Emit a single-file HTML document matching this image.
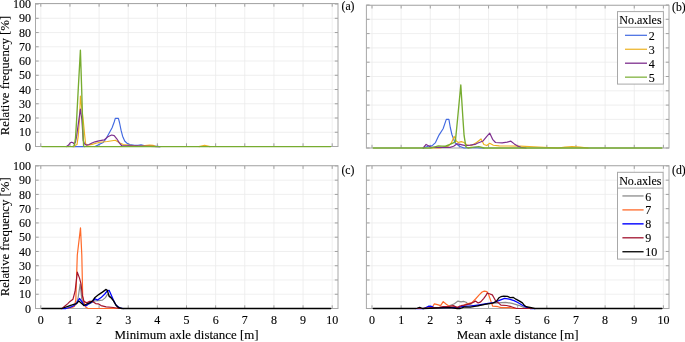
<!DOCTYPE html>
<html><head><meta charset="utf-8"><style>
html,body{margin:0;padding:0;background:#fff;}
body{width:685px;height:342px;overflow:hidden;}
svg{display:block;will-change:transform;}
text{font-family:"Liberation Serif", serif;fill:#000;stroke:#000;stroke-width:0.12px;}
.t{font-size:12px;}
.l{font-size:12px;}
.x{font-size:12.95px;}
.p{font-size:11.7px;stroke-width:0.12px;}
</style></head><body>
<svg width="685" height="342" viewBox="0 0 685 342">
<rect width="685" height="342" fill="#fff"/>
<line x1="40.8" y1="3.5" x2="40.8" y2="146.5" stroke="#ebebeb" stroke-width="0.8"/>
<line x1="69.94" y1="3.5" x2="69.94" y2="146.5" stroke="#ebebeb" stroke-width="0.8"/>
<line x1="99.08" y1="3.5" x2="99.08" y2="146.5" stroke="#ebebeb" stroke-width="0.8"/>
<line x1="128.22" y1="3.5" x2="128.22" y2="146.5" stroke="#ebebeb" stroke-width="0.8"/>
<line x1="157.36" y1="3.5" x2="157.36" y2="146.5" stroke="#ebebeb" stroke-width="0.8"/>
<line x1="186.5" y1="3.5" x2="186.5" y2="146.5" stroke="#ebebeb" stroke-width="0.8"/>
<line x1="215.64" y1="3.5" x2="215.64" y2="146.5" stroke="#ebebeb" stroke-width="0.8"/>
<line x1="244.78" y1="3.5" x2="244.78" y2="146.5" stroke="#ebebeb" stroke-width="0.8"/>
<line x1="273.92" y1="3.5" x2="273.92" y2="146.5" stroke="#ebebeb" stroke-width="0.8"/>
<line x1="303.06" y1="3.5" x2="303.06" y2="146.5" stroke="#ebebeb" stroke-width="0.8"/>
<line x1="332.2" y1="3.5" x2="332.2" y2="146.5" stroke="#ebebeb" stroke-width="0.8"/>
<line x1="35.5" y1="146.5" x2="338" y2="146.5" stroke="#ebebeb" stroke-width="0.8"/>
<line x1="35.5" y1="132.26" x2="338" y2="132.26" stroke="#ebebeb" stroke-width="0.8"/>
<line x1="35.5" y1="118.01" x2="338" y2="118.01" stroke="#ebebeb" stroke-width="0.8"/>
<line x1="35.5" y1="103.77" x2="338" y2="103.77" stroke="#ebebeb" stroke-width="0.8"/>
<line x1="35.5" y1="89.52" x2="338" y2="89.52" stroke="#ebebeb" stroke-width="0.8"/>
<line x1="35.5" y1="75.28" x2="338" y2="75.28" stroke="#ebebeb" stroke-width="0.8"/>
<line x1="35.5" y1="61.04" x2="338" y2="61.04" stroke="#ebebeb" stroke-width="0.8"/>
<line x1="35.5" y1="46.79" x2="338" y2="46.79" stroke="#ebebeb" stroke-width="0.8"/>
<line x1="35.5" y1="32.55" x2="338" y2="32.55" stroke="#ebebeb" stroke-width="0.8"/>
<line x1="35.5" y1="18.3" x2="338" y2="18.3" stroke="#ebebeb" stroke-width="0.8"/>
<line x1="35.5" y1="4.06" x2="338" y2="4.06" stroke="#ebebeb" stroke-width="0.8"/>
<line x1="40.8" y1="146.5" x2="40.8" y2="143.3" stroke="#8c8c8c" stroke-width="0.8"/>
<line x1="40.8" y1="3.5" x2="40.8" y2="6.7" stroke="#8c8c8c" stroke-width="0.8"/>
<line x1="69.94" y1="146.5" x2="69.94" y2="143.3" stroke="#8c8c8c" stroke-width="0.8"/>
<line x1="69.94" y1="3.5" x2="69.94" y2="6.7" stroke="#8c8c8c" stroke-width="0.8"/>
<line x1="99.08" y1="146.5" x2="99.08" y2="143.3" stroke="#8c8c8c" stroke-width="0.8"/>
<line x1="99.08" y1="3.5" x2="99.08" y2="6.7" stroke="#8c8c8c" stroke-width="0.8"/>
<line x1="128.22" y1="146.5" x2="128.22" y2="143.3" stroke="#8c8c8c" stroke-width="0.8"/>
<line x1="128.22" y1="3.5" x2="128.22" y2="6.7" stroke="#8c8c8c" stroke-width="0.8"/>
<line x1="157.36" y1="146.5" x2="157.36" y2="143.3" stroke="#8c8c8c" stroke-width="0.8"/>
<line x1="157.36" y1="3.5" x2="157.36" y2="6.7" stroke="#8c8c8c" stroke-width="0.8"/>
<line x1="186.5" y1="146.5" x2="186.5" y2="143.3" stroke="#8c8c8c" stroke-width="0.8"/>
<line x1="186.5" y1="3.5" x2="186.5" y2="6.7" stroke="#8c8c8c" stroke-width="0.8"/>
<line x1="215.64" y1="146.5" x2="215.64" y2="143.3" stroke="#8c8c8c" stroke-width="0.8"/>
<line x1="215.64" y1="3.5" x2="215.64" y2="6.7" stroke="#8c8c8c" stroke-width="0.8"/>
<line x1="244.78" y1="146.5" x2="244.78" y2="143.3" stroke="#8c8c8c" stroke-width="0.8"/>
<line x1="244.78" y1="3.5" x2="244.78" y2="6.7" stroke="#8c8c8c" stroke-width="0.8"/>
<line x1="273.92" y1="146.5" x2="273.92" y2="143.3" stroke="#8c8c8c" stroke-width="0.8"/>
<line x1="273.92" y1="3.5" x2="273.92" y2="6.7" stroke="#8c8c8c" stroke-width="0.8"/>
<line x1="303.06" y1="146.5" x2="303.06" y2="143.3" stroke="#8c8c8c" stroke-width="0.8"/>
<line x1="303.06" y1="3.5" x2="303.06" y2="6.7" stroke="#8c8c8c" stroke-width="0.8"/>
<line x1="332.2" y1="146.5" x2="332.2" y2="143.3" stroke="#8c8c8c" stroke-width="0.8"/>
<line x1="332.2" y1="3.5" x2="332.2" y2="6.7" stroke="#8c8c8c" stroke-width="0.8"/>
<line x1="35.5" y1="146.5" x2="38.7" y2="146.5" stroke="#8c8c8c" stroke-width="0.8"/>
<line x1="338" y1="146.5" x2="334.8" y2="146.5" stroke="#8c8c8c" stroke-width="0.8"/>
<line x1="35.5" y1="132.26" x2="38.7" y2="132.26" stroke="#8c8c8c" stroke-width="0.8"/>
<line x1="338" y1="132.26" x2="334.8" y2="132.26" stroke="#8c8c8c" stroke-width="0.8"/>
<line x1="35.5" y1="118.01" x2="38.7" y2="118.01" stroke="#8c8c8c" stroke-width="0.8"/>
<line x1="338" y1="118.01" x2="334.8" y2="118.01" stroke="#8c8c8c" stroke-width="0.8"/>
<line x1="35.5" y1="103.77" x2="38.7" y2="103.77" stroke="#8c8c8c" stroke-width="0.8"/>
<line x1="338" y1="103.77" x2="334.8" y2="103.77" stroke="#8c8c8c" stroke-width="0.8"/>
<line x1="35.5" y1="89.52" x2="38.7" y2="89.52" stroke="#8c8c8c" stroke-width="0.8"/>
<line x1="338" y1="89.52" x2="334.8" y2="89.52" stroke="#8c8c8c" stroke-width="0.8"/>
<line x1="35.5" y1="75.28" x2="38.7" y2="75.28" stroke="#8c8c8c" stroke-width="0.8"/>
<line x1="338" y1="75.28" x2="334.8" y2="75.28" stroke="#8c8c8c" stroke-width="0.8"/>
<line x1="35.5" y1="61.04" x2="38.7" y2="61.04" stroke="#8c8c8c" stroke-width="0.8"/>
<line x1="338" y1="61.04" x2="334.8" y2="61.04" stroke="#8c8c8c" stroke-width="0.8"/>
<line x1="35.5" y1="46.79" x2="38.7" y2="46.79" stroke="#8c8c8c" stroke-width="0.8"/>
<line x1="338" y1="46.79" x2="334.8" y2="46.79" stroke="#8c8c8c" stroke-width="0.8"/>
<line x1="35.5" y1="32.55" x2="38.7" y2="32.55" stroke="#8c8c8c" stroke-width="0.8"/>
<line x1="338" y1="32.55" x2="334.8" y2="32.55" stroke="#8c8c8c" stroke-width="0.8"/>
<line x1="35.5" y1="18.3" x2="38.7" y2="18.3" stroke="#8c8c8c" stroke-width="0.8"/>
<line x1="338" y1="18.3" x2="334.8" y2="18.3" stroke="#8c8c8c" stroke-width="0.8"/>
<line x1="35.5" y1="4.06" x2="38.7" y2="4.06" stroke="#8c8c8c" stroke-width="0.8"/>
<line x1="338" y1="4.06" x2="334.8" y2="4.06" stroke="#8c8c8c" stroke-width="0.8"/>
<text x="31" y="150.6" text-anchor="end" class="t">0</text>
<text x="31" y="136.36" text-anchor="end" class="t">10</text>
<text x="31" y="122.11" text-anchor="end" class="t">20</text>
<text x="31" y="107.87" text-anchor="end" class="t">30</text>
<text x="31" y="93.62" text-anchor="end" class="t">40</text>
<text x="31" y="79.38" text-anchor="end" class="t">50</text>
<text x="31" y="65.14" text-anchor="end" class="t">60</text>
<text x="31" y="50.89" text-anchor="end" class="t">70</text>
<text x="31" y="36.65" text-anchor="end" class="t">80</text>
<text x="31" y="22.4" text-anchor="end" class="t">90</text>
<text x="31" y="8.16" text-anchor="end" class="t">100</text>
<line x1="372" y1="5.3" x2="372" y2="148" stroke="#ebebeb" stroke-width="0.8"/>
<line x1="401.14" y1="5.3" x2="401.14" y2="148" stroke="#ebebeb" stroke-width="0.8"/>
<line x1="430.28" y1="5.3" x2="430.28" y2="148" stroke="#ebebeb" stroke-width="0.8"/>
<line x1="459.42" y1="5.3" x2="459.42" y2="148" stroke="#ebebeb" stroke-width="0.8"/>
<line x1="488.56" y1="5.3" x2="488.56" y2="148" stroke="#ebebeb" stroke-width="0.8"/>
<line x1="517.7" y1="5.3" x2="517.7" y2="148" stroke="#ebebeb" stroke-width="0.8"/>
<line x1="546.84" y1="5.3" x2="546.84" y2="148" stroke="#ebebeb" stroke-width="0.8"/>
<line x1="575.98" y1="5.3" x2="575.98" y2="148" stroke="#ebebeb" stroke-width="0.8"/>
<line x1="605.12" y1="5.3" x2="605.12" y2="148" stroke="#ebebeb" stroke-width="0.8"/>
<line x1="634.26" y1="5.3" x2="634.26" y2="148" stroke="#ebebeb" stroke-width="0.8"/>
<line x1="663.4" y1="5.3" x2="663.4" y2="148" stroke="#ebebeb" stroke-width="0.8"/>
<line x1="366.4" y1="148" x2="669" y2="148" stroke="#ebebeb" stroke-width="0.8"/>
<line x1="366.4" y1="133.7" x2="669" y2="133.7" stroke="#ebebeb" stroke-width="0.8"/>
<line x1="366.4" y1="119.4" x2="669" y2="119.4" stroke="#ebebeb" stroke-width="0.8"/>
<line x1="366.4" y1="105.1" x2="669" y2="105.1" stroke="#ebebeb" stroke-width="0.8"/>
<line x1="366.4" y1="90.8" x2="669" y2="90.8" stroke="#ebebeb" stroke-width="0.8"/>
<line x1="366.4" y1="76.5" x2="669" y2="76.5" stroke="#ebebeb" stroke-width="0.8"/>
<line x1="366.4" y1="62.2" x2="669" y2="62.2" stroke="#ebebeb" stroke-width="0.8"/>
<line x1="366.4" y1="47.9" x2="669" y2="47.9" stroke="#ebebeb" stroke-width="0.8"/>
<line x1="366.4" y1="33.6" x2="669" y2="33.6" stroke="#ebebeb" stroke-width="0.8"/>
<line x1="366.4" y1="19.3" x2="669" y2="19.3" stroke="#ebebeb" stroke-width="0.8"/>
<line x1="366.4" y1="5" x2="669" y2="5" stroke="#ebebeb" stroke-width="0.8"/>
<line x1="372" y1="148" x2="372" y2="144.8" stroke="#8c8c8c" stroke-width="0.8"/>
<line x1="372" y1="5.3" x2="372" y2="8.5" stroke="#8c8c8c" stroke-width="0.8"/>
<line x1="401.14" y1="148" x2="401.14" y2="144.8" stroke="#8c8c8c" stroke-width="0.8"/>
<line x1="401.14" y1="5.3" x2="401.14" y2="8.5" stroke="#8c8c8c" stroke-width="0.8"/>
<line x1="430.28" y1="148" x2="430.28" y2="144.8" stroke="#8c8c8c" stroke-width="0.8"/>
<line x1="430.28" y1="5.3" x2="430.28" y2="8.5" stroke="#8c8c8c" stroke-width="0.8"/>
<line x1="459.42" y1="148" x2="459.42" y2="144.8" stroke="#8c8c8c" stroke-width="0.8"/>
<line x1="459.42" y1="5.3" x2="459.42" y2="8.5" stroke="#8c8c8c" stroke-width="0.8"/>
<line x1="488.56" y1="148" x2="488.56" y2="144.8" stroke="#8c8c8c" stroke-width="0.8"/>
<line x1="488.56" y1="5.3" x2="488.56" y2="8.5" stroke="#8c8c8c" stroke-width="0.8"/>
<line x1="517.7" y1="148" x2="517.7" y2="144.8" stroke="#8c8c8c" stroke-width="0.8"/>
<line x1="517.7" y1="5.3" x2="517.7" y2="8.5" stroke="#8c8c8c" stroke-width="0.8"/>
<line x1="546.84" y1="148" x2="546.84" y2="144.8" stroke="#8c8c8c" stroke-width="0.8"/>
<line x1="546.84" y1="5.3" x2="546.84" y2="8.5" stroke="#8c8c8c" stroke-width="0.8"/>
<line x1="575.98" y1="148" x2="575.98" y2="144.8" stroke="#8c8c8c" stroke-width="0.8"/>
<line x1="575.98" y1="5.3" x2="575.98" y2="8.5" stroke="#8c8c8c" stroke-width="0.8"/>
<line x1="605.12" y1="148" x2="605.12" y2="144.8" stroke="#8c8c8c" stroke-width="0.8"/>
<line x1="605.12" y1="5.3" x2="605.12" y2="8.5" stroke="#8c8c8c" stroke-width="0.8"/>
<line x1="634.26" y1="148" x2="634.26" y2="144.8" stroke="#8c8c8c" stroke-width="0.8"/>
<line x1="634.26" y1="5.3" x2="634.26" y2="8.5" stroke="#8c8c8c" stroke-width="0.8"/>
<line x1="663.4" y1="148" x2="663.4" y2="144.8" stroke="#8c8c8c" stroke-width="0.8"/>
<line x1="663.4" y1="5.3" x2="663.4" y2="8.5" stroke="#8c8c8c" stroke-width="0.8"/>
<line x1="366.4" y1="148" x2="369.6" y2="148" stroke="#8c8c8c" stroke-width="0.8"/>
<line x1="669" y1="148" x2="665.8" y2="148" stroke="#8c8c8c" stroke-width="0.8"/>
<line x1="366.4" y1="133.7" x2="369.6" y2="133.7" stroke="#8c8c8c" stroke-width="0.8"/>
<line x1="669" y1="133.7" x2="665.8" y2="133.7" stroke="#8c8c8c" stroke-width="0.8"/>
<line x1="366.4" y1="119.4" x2="369.6" y2="119.4" stroke="#8c8c8c" stroke-width="0.8"/>
<line x1="669" y1="119.4" x2="665.8" y2="119.4" stroke="#8c8c8c" stroke-width="0.8"/>
<line x1="366.4" y1="105.1" x2="369.6" y2="105.1" stroke="#8c8c8c" stroke-width="0.8"/>
<line x1="669" y1="105.1" x2="665.8" y2="105.1" stroke="#8c8c8c" stroke-width="0.8"/>
<line x1="366.4" y1="90.8" x2="369.6" y2="90.8" stroke="#8c8c8c" stroke-width="0.8"/>
<line x1="669" y1="90.8" x2="665.8" y2="90.8" stroke="#8c8c8c" stroke-width="0.8"/>
<line x1="366.4" y1="76.5" x2="369.6" y2="76.5" stroke="#8c8c8c" stroke-width="0.8"/>
<line x1="669" y1="76.5" x2="665.8" y2="76.5" stroke="#8c8c8c" stroke-width="0.8"/>
<line x1="366.4" y1="62.2" x2="369.6" y2="62.2" stroke="#8c8c8c" stroke-width="0.8"/>
<line x1="669" y1="62.2" x2="665.8" y2="62.2" stroke="#8c8c8c" stroke-width="0.8"/>
<line x1="366.4" y1="47.9" x2="369.6" y2="47.9" stroke="#8c8c8c" stroke-width="0.8"/>
<line x1="669" y1="47.9" x2="665.8" y2="47.9" stroke="#8c8c8c" stroke-width="0.8"/>
<line x1="366.4" y1="33.6" x2="369.6" y2="33.6" stroke="#8c8c8c" stroke-width="0.8"/>
<line x1="669" y1="33.6" x2="665.8" y2="33.6" stroke="#8c8c8c" stroke-width="0.8"/>
<line x1="366.4" y1="19.3" x2="369.6" y2="19.3" stroke="#8c8c8c" stroke-width="0.8"/>
<line x1="669" y1="19.3" x2="665.8" y2="19.3" stroke="#8c8c8c" stroke-width="0.8"/>
<line x1="366.4" y1="5" x2="369.6" y2="5" stroke="#8c8c8c" stroke-width="0.8"/>
<line x1="669" y1="5" x2="665.8" y2="5" stroke="#8c8c8c" stroke-width="0.8"/>
<line x1="40.8" y1="165.7" x2="40.8" y2="308.5" stroke="#ebebeb" stroke-width="0.8"/>
<line x1="69.94" y1="165.7" x2="69.94" y2="308.5" stroke="#ebebeb" stroke-width="0.8"/>
<line x1="99.08" y1="165.7" x2="99.08" y2="308.5" stroke="#ebebeb" stroke-width="0.8"/>
<line x1="128.22" y1="165.7" x2="128.22" y2="308.5" stroke="#ebebeb" stroke-width="0.8"/>
<line x1="157.36" y1="165.7" x2="157.36" y2="308.5" stroke="#ebebeb" stroke-width="0.8"/>
<line x1="186.5" y1="165.7" x2="186.5" y2="308.5" stroke="#ebebeb" stroke-width="0.8"/>
<line x1="215.64" y1="165.7" x2="215.64" y2="308.5" stroke="#ebebeb" stroke-width="0.8"/>
<line x1="244.78" y1="165.7" x2="244.78" y2="308.5" stroke="#ebebeb" stroke-width="0.8"/>
<line x1="273.92" y1="165.7" x2="273.92" y2="308.5" stroke="#ebebeb" stroke-width="0.8"/>
<line x1="303.06" y1="165.7" x2="303.06" y2="308.5" stroke="#ebebeb" stroke-width="0.8"/>
<line x1="332.2" y1="165.7" x2="332.2" y2="308.5" stroke="#ebebeb" stroke-width="0.8"/>
<line x1="35.5" y1="308.5" x2="338" y2="308.5" stroke="#ebebeb" stroke-width="0.8"/>
<line x1="35.5" y1="294.24" x2="338" y2="294.24" stroke="#ebebeb" stroke-width="0.8"/>
<line x1="35.5" y1="279.98" x2="338" y2="279.98" stroke="#ebebeb" stroke-width="0.8"/>
<line x1="35.5" y1="265.72" x2="338" y2="265.72" stroke="#ebebeb" stroke-width="0.8"/>
<line x1="35.5" y1="251.46" x2="338" y2="251.46" stroke="#ebebeb" stroke-width="0.8"/>
<line x1="35.5" y1="237.2" x2="338" y2="237.2" stroke="#ebebeb" stroke-width="0.8"/>
<line x1="35.5" y1="222.94" x2="338" y2="222.94" stroke="#ebebeb" stroke-width="0.8"/>
<line x1="35.5" y1="208.68" x2="338" y2="208.68" stroke="#ebebeb" stroke-width="0.8"/>
<line x1="35.5" y1="194.42" x2="338" y2="194.42" stroke="#ebebeb" stroke-width="0.8"/>
<line x1="35.5" y1="180.16" x2="338" y2="180.16" stroke="#ebebeb" stroke-width="0.8"/>
<line x1="35.5" y1="165.9" x2="338" y2="165.9" stroke="#ebebeb" stroke-width="0.8"/>
<line x1="40.8" y1="308.5" x2="40.8" y2="305.3" stroke="#8c8c8c" stroke-width="0.8"/>
<line x1="40.8" y1="165.7" x2="40.8" y2="168.9" stroke="#8c8c8c" stroke-width="0.8"/>
<line x1="69.94" y1="308.5" x2="69.94" y2="305.3" stroke="#8c8c8c" stroke-width="0.8"/>
<line x1="69.94" y1="165.7" x2="69.94" y2="168.9" stroke="#8c8c8c" stroke-width="0.8"/>
<line x1="99.08" y1="308.5" x2="99.08" y2="305.3" stroke="#8c8c8c" stroke-width="0.8"/>
<line x1="99.08" y1="165.7" x2="99.08" y2="168.9" stroke="#8c8c8c" stroke-width="0.8"/>
<line x1="128.22" y1="308.5" x2="128.22" y2="305.3" stroke="#8c8c8c" stroke-width="0.8"/>
<line x1="128.22" y1="165.7" x2="128.22" y2="168.9" stroke="#8c8c8c" stroke-width="0.8"/>
<line x1="157.36" y1="308.5" x2="157.36" y2="305.3" stroke="#8c8c8c" stroke-width="0.8"/>
<line x1="157.36" y1="165.7" x2="157.36" y2="168.9" stroke="#8c8c8c" stroke-width="0.8"/>
<line x1="186.5" y1="308.5" x2="186.5" y2="305.3" stroke="#8c8c8c" stroke-width="0.8"/>
<line x1="186.5" y1="165.7" x2="186.5" y2="168.9" stroke="#8c8c8c" stroke-width="0.8"/>
<line x1="215.64" y1="308.5" x2="215.64" y2="305.3" stroke="#8c8c8c" stroke-width="0.8"/>
<line x1="215.64" y1="165.7" x2="215.64" y2="168.9" stroke="#8c8c8c" stroke-width="0.8"/>
<line x1="244.78" y1="308.5" x2="244.78" y2="305.3" stroke="#8c8c8c" stroke-width="0.8"/>
<line x1="244.78" y1="165.7" x2="244.78" y2="168.9" stroke="#8c8c8c" stroke-width="0.8"/>
<line x1="273.92" y1="308.5" x2="273.92" y2="305.3" stroke="#8c8c8c" stroke-width="0.8"/>
<line x1="273.92" y1="165.7" x2="273.92" y2="168.9" stroke="#8c8c8c" stroke-width="0.8"/>
<line x1="303.06" y1="308.5" x2="303.06" y2="305.3" stroke="#8c8c8c" stroke-width="0.8"/>
<line x1="303.06" y1="165.7" x2="303.06" y2="168.9" stroke="#8c8c8c" stroke-width="0.8"/>
<line x1="332.2" y1="308.5" x2="332.2" y2="305.3" stroke="#8c8c8c" stroke-width="0.8"/>
<line x1="332.2" y1="165.7" x2="332.2" y2="168.9" stroke="#8c8c8c" stroke-width="0.8"/>
<line x1="35.5" y1="308.5" x2="38.7" y2="308.5" stroke="#8c8c8c" stroke-width="0.8"/>
<line x1="338" y1="308.5" x2="334.8" y2="308.5" stroke="#8c8c8c" stroke-width="0.8"/>
<line x1="35.5" y1="294.24" x2="38.7" y2="294.24" stroke="#8c8c8c" stroke-width="0.8"/>
<line x1="338" y1="294.24" x2="334.8" y2="294.24" stroke="#8c8c8c" stroke-width="0.8"/>
<line x1="35.5" y1="279.98" x2="38.7" y2="279.98" stroke="#8c8c8c" stroke-width="0.8"/>
<line x1="338" y1="279.98" x2="334.8" y2="279.98" stroke="#8c8c8c" stroke-width="0.8"/>
<line x1="35.5" y1="265.72" x2="38.7" y2="265.72" stroke="#8c8c8c" stroke-width="0.8"/>
<line x1="338" y1="265.72" x2="334.8" y2="265.72" stroke="#8c8c8c" stroke-width="0.8"/>
<line x1="35.5" y1="251.46" x2="38.7" y2="251.46" stroke="#8c8c8c" stroke-width="0.8"/>
<line x1="338" y1="251.46" x2="334.8" y2="251.46" stroke="#8c8c8c" stroke-width="0.8"/>
<line x1="35.5" y1="237.2" x2="38.7" y2="237.2" stroke="#8c8c8c" stroke-width="0.8"/>
<line x1="338" y1="237.2" x2="334.8" y2="237.2" stroke="#8c8c8c" stroke-width="0.8"/>
<line x1="35.5" y1="222.94" x2="38.7" y2="222.94" stroke="#8c8c8c" stroke-width="0.8"/>
<line x1="338" y1="222.94" x2="334.8" y2="222.94" stroke="#8c8c8c" stroke-width="0.8"/>
<line x1="35.5" y1="208.68" x2="38.7" y2="208.68" stroke="#8c8c8c" stroke-width="0.8"/>
<line x1="338" y1="208.68" x2="334.8" y2="208.68" stroke="#8c8c8c" stroke-width="0.8"/>
<line x1="35.5" y1="194.42" x2="38.7" y2="194.42" stroke="#8c8c8c" stroke-width="0.8"/>
<line x1="338" y1="194.42" x2="334.8" y2="194.42" stroke="#8c8c8c" stroke-width="0.8"/>
<line x1="35.5" y1="180.16" x2="38.7" y2="180.16" stroke="#8c8c8c" stroke-width="0.8"/>
<line x1="338" y1="180.16" x2="334.8" y2="180.16" stroke="#8c8c8c" stroke-width="0.8"/>
<line x1="35.5" y1="165.9" x2="38.7" y2="165.9" stroke="#8c8c8c" stroke-width="0.8"/>
<line x1="338" y1="165.9" x2="334.8" y2="165.9" stroke="#8c8c8c" stroke-width="0.8"/>
<text x="31" y="312.6" text-anchor="end" class="t">0</text>
<text x="31" y="298.34" text-anchor="end" class="t">10</text>
<text x="31" y="284.08" text-anchor="end" class="t">20</text>
<text x="31" y="269.82" text-anchor="end" class="t">30</text>
<text x="31" y="255.56" text-anchor="end" class="t">40</text>
<text x="31" y="241.3" text-anchor="end" class="t">50</text>
<text x="31" y="227.04" text-anchor="end" class="t">60</text>
<text x="31" y="212.78" text-anchor="end" class="t">70</text>
<text x="31" y="198.52" text-anchor="end" class="t">80</text>
<text x="31" y="184.26" text-anchor="end" class="t">90</text>
<text x="31" y="170" text-anchor="end" class="t">100</text>
<text x="40.8" y="323.6" text-anchor="middle" class="t">0</text>
<text x="69.94" y="323.6" text-anchor="middle" class="t">1</text>
<text x="99.08" y="323.6" text-anchor="middle" class="t">2</text>
<text x="128.22" y="323.6" text-anchor="middle" class="t">3</text>
<text x="157.36" y="323.6" text-anchor="middle" class="t">4</text>
<text x="186.5" y="323.6" text-anchor="middle" class="t">5</text>
<text x="215.64" y="323.6" text-anchor="middle" class="t">6</text>
<text x="244.78" y="323.6" text-anchor="middle" class="t">7</text>
<text x="273.92" y="323.6" text-anchor="middle" class="t">8</text>
<text x="303.06" y="323.6" text-anchor="middle" class="t">9</text>
<text x="332.2" y="323.6" text-anchor="middle" class="t">10</text>
<line x1="372" y1="165.7" x2="372" y2="308.5" stroke="#ebebeb" stroke-width="0.8"/>
<line x1="401.14" y1="165.7" x2="401.14" y2="308.5" stroke="#ebebeb" stroke-width="0.8"/>
<line x1="430.28" y1="165.7" x2="430.28" y2="308.5" stroke="#ebebeb" stroke-width="0.8"/>
<line x1="459.42" y1="165.7" x2="459.42" y2="308.5" stroke="#ebebeb" stroke-width="0.8"/>
<line x1="488.56" y1="165.7" x2="488.56" y2="308.5" stroke="#ebebeb" stroke-width="0.8"/>
<line x1="517.7" y1="165.7" x2="517.7" y2="308.5" stroke="#ebebeb" stroke-width="0.8"/>
<line x1="546.84" y1="165.7" x2="546.84" y2="308.5" stroke="#ebebeb" stroke-width="0.8"/>
<line x1="575.98" y1="165.7" x2="575.98" y2="308.5" stroke="#ebebeb" stroke-width="0.8"/>
<line x1="605.12" y1="165.7" x2="605.12" y2="308.5" stroke="#ebebeb" stroke-width="0.8"/>
<line x1="634.26" y1="165.7" x2="634.26" y2="308.5" stroke="#ebebeb" stroke-width="0.8"/>
<line x1="663.4" y1="165.7" x2="663.4" y2="308.5" stroke="#ebebeb" stroke-width="0.8"/>
<line x1="366.4" y1="308.5" x2="669" y2="308.5" stroke="#ebebeb" stroke-width="0.8"/>
<line x1="366.4" y1="294.24" x2="669" y2="294.24" stroke="#ebebeb" stroke-width="0.8"/>
<line x1="366.4" y1="279.98" x2="669" y2="279.98" stroke="#ebebeb" stroke-width="0.8"/>
<line x1="366.4" y1="265.72" x2="669" y2="265.72" stroke="#ebebeb" stroke-width="0.8"/>
<line x1="366.4" y1="251.46" x2="669" y2="251.46" stroke="#ebebeb" stroke-width="0.8"/>
<line x1="366.4" y1="237.2" x2="669" y2="237.2" stroke="#ebebeb" stroke-width="0.8"/>
<line x1="366.4" y1="222.94" x2="669" y2="222.94" stroke="#ebebeb" stroke-width="0.8"/>
<line x1="366.4" y1="208.68" x2="669" y2="208.68" stroke="#ebebeb" stroke-width="0.8"/>
<line x1="366.4" y1="194.42" x2="669" y2="194.42" stroke="#ebebeb" stroke-width="0.8"/>
<line x1="366.4" y1="180.16" x2="669" y2="180.16" stroke="#ebebeb" stroke-width="0.8"/>
<line x1="366.4" y1="165.9" x2="669" y2="165.9" stroke="#ebebeb" stroke-width="0.8"/>
<line x1="372" y1="308.5" x2="372" y2="305.3" stroke="#8c8c8c" stroke-width="0.8"/>
<line x1="372" y1="165.7" x2="372" y2="168.9" stroke="#8c8c8c" stroke-width="0.8"/>
<line x1="401.14" y1="308.5" x2="401.14" y2="305.3" stroke="#8c8c8c" stroke-width="0.8"/>
<line x1="401.14" y1="165.7" x2="401.14" y2="168.9" stroke="#8c8c8c" stroke-width="0.8"/>
<line x1="430.28" y1="308.5" x2="430.28" y2="305.3" stroke="#8c8c8c" stroke-width="0.8"/>
<line x1="430.28" y1="165.7" x2="430.28" y2="168.9" stroke="#8c8c8c" stroke-width="0.8"/>
<line x1="459.42" y1="308.5" x2="459.42" y2="305.3" stroke="#8c8c8c" stroke-width="0.8"/>
<line x1="459.42" y1="165.7" x2="459.42" y2="168.9" stroke="#8c8c8c" stroke-width="0.8"/>
<line x1="488.56" y1="308.5" x2="488.56" y2="305.3" stroke="#8c8c8c" stroke-width="0.8"/>
<line x1="488.56" y1="165.7" x2="488.56" y2="168.9" stroke="#8c8c8c" stroke-width="0.8"/>
<line x1="517.7" y1="308.5" x2="517.7" y2="305.3" stroke="#8c8c8c" stroke-width="0.8"/>
<line x1="517.7" y1="165.7" x2="517.7" y2="168.9" stroke="#8c8c8c" stroke-width="0.8"/>
<line x1="546.84" y1="308.5" x2="546.84" y2="305.3" stroke="#8c8c8c" stroke-width="0.8"/>
<line x1="546.84" y1="165.7" x2="546.84" y2="168.9" stroke="#8c8c8c" stroke-width="0.8"/>
<line x1="575.98" y1="308.5" x2="575.98" y2="305.3" stroke="#8c8c8c" stroke-width="0.8"/>
<line x1="575.98" y1="165.7" x2="575.98" y2="168.9" stroke="#8c8c8c" stroke-width="0.8"/>
<line x1="605.12" y1="308.5" x2="605.12" y2="305.3" stroke="#8c8c8c" stroke-width="0.8"/>
<line x1="605.12" y1="165.7" x2="605.12" y2="168.9" stroke="#8c8c8c" stroke-width="0.8"/>
<line x1="634.26" y1="308.5" x2="634.26" y2="305.3" stroke="#8c8c8c" stroke-width="0.8"/>
<line x1="634.26" y1="165.7" x2="634.26" y2="168.9" stroke="#8c8c8c" stroke-width="0.8"/>
<line x1="663.4" y1="308.5" x2="663.4" y2="305.3" stroke="#8c8c8c" stroke-width="0.8"/>
<line x1="663.4" y1="165.7" x2="663.4" y2="168.9" stroke="#8c8c8c" stroke-width="0.8"/>
<line x1="366.4" y1="308.5" x2="369.6" y2="308.5" stroke="#8c8c8c" stroke-width="0.8"/>
<line x1="669" y1="308.5" x2="665.8" y2="308.5" stroke="#8c8c8c" stroke-width="0.8"/>
<line x1="366.4" y1="294.24" x2="369.6" y2="294.24" stroke="#8c8c8c" stroke-width="0.8"/>
<line x1="669" y1="294.24" x2="665.8" y2="294.24" stroke="#8c8c8c" stroke-width="0.8"/>
<line x1="366.4" y1="279.98" x2="369.6" y2="279.98" stroke="#8c8c8c" stroke-width="0.8"/>
<line x1="669" y1="279.98" x2="665.8" y2="279.98" stroke="#8c8c8c" stroke-width="0.8"/>
<line x1="366.4" y1="265.72" x2="369.6" y2="265.72" stroke="#8c8c8c" stroke-width="0.8"/>
<line x1="669" y1="265.72" x2="665.8" y2="265.72" stroke="#8c8c8c" stroke-width="0.8"/>
<line x1="366.4" y1="251.46" x2="369.6" y2="251.46" stroke="#8c8c8c" stroke-width="0.8"/>
<line x1="669" y1="251.46" x2="665.8" y2="251.46" stroke="#8c8c8c" stroke-width="0.8"/>
<line x1="366.4" y1="237.2" x2="369.6" y2="237.2" stroke="#8c8c8c" stroke-width="0.8"/>
<line x1="669" y1="237.2" x2="665.8" y2="237.2" stroke="#8c8c8c" stroke-width="0.8"/>
<line x1="366.4" y1="222.94" x2="369.6" y2="222.94" stroke="#8c8c8c" stroke-width="0.8"/>
<line x1="669" y1="222.94" x2="665.8" y2="222.94" stroke="#8c8c8c" stroke-width="0.8"/>
<line x1="366.4" y1="208.68" x2="369.6" y2="208.68" stroke="#8c8c8c" stroke-width="0.8"/>
<line x1="669" y1="208.68" x2="665.8" y2="208.68" stroke="#8c8c8c" stroke-width="0.8"/>
<line x1="366.4" y1="194.42" x2="369.6" y2="194.42" stroke="#8c8c8c" stroke-width="0.8"/>
<line x1="669" y1="194.42" x2="665.8" y2="194.42" stroke="#8c8c8c" stroke-width="0.8"/>
<line x1="366.4" y1="180.16" x2="369.6" y2="180.16" stroke="#8c8c8c" stroke-width="0.8"/>
<line x1="669" y1="180.16" x2="665.8" y2="180.16" stroke="#8c8c8c" stroke-width="0.8"/>
<line x1="366.4" y1="165.9" x2="369.6" y2="165.9" stroke="#8c8c8c" stroke-width="0.8"/>
<line x1="669" y1="165.9" x2="665.8" y2="165.9" stroke="#8c8c8c" stroke-width="0.8"/>
<text x="372" y="323.6" text-anchor="middle" class="t">0</text>
<text x="401.14" y="323.6" text-anchor="middle" class="t">1</text>
<text x="430.28" y="323.6" text-anchor="middle" class="t">2</text>
<text x="459.42" y="323.6" text-anchor="middle" class="t">3</text>
<text x="488.56" y="323.6" text-anchor="middle" class="t">4</text>
<text x="517.7" y="323.6" text-anchor="middle" class="t">5</text>
<text x="546.84" y="323.6" text-anchor="middle" class="t">6</text>
<text x="575.98" y="323.6" text-anchor="middle" class="t">7</text>
<text x="605.12" y="323.6" text-anchor="middle" class="t">8</text>
<text x="634.26" y="323.6" text-anchor="middle" class="t">9</text>
<text x="663.4" y="323.6" text-anchor="middle" class="t">10</text>
<rect x="35.5" y="3.5" width="302.5" height="143" fill="none" stroke="#a8a8a8" stroke-width="1"/>
<rect x="366.4" y="5.3" width="302.6" height="142.7" fill="none" stroke="#a8a8a8" stroke-width="1"/>
<rect x="35.5" y="165.7" width="302.5" height="142.8" fill="none" stroke="#a8a8a8" stroke-width="1"/>
<rect x="366.4" y="165.7" width="302.6" height="142.8" fill="none" stroke="#a8a8a8" stroke-width="1"/>
<polyline points="73,146.6 84.5,146.6" fill="none" stroke="#4169E1" stroke-width="1.15" stroke-linejoin="round" stroke-linecap="round"/>
<polyline points="95,146.6 97.6,145.2 100,144.1 103.2,142.5 106.3,138.3 109.5,132.5 112.1,127.8 114.2,122 115.3,118.3 118.4,118.3 119.5,122.5 121.1,130.4 122.6,136.2 124.7,141 127.4,143.6 130,144.6 134.5,145.3 138,145.3 141,144.9 144,145.6 150,146.1 160,146.6" fill="none" stroke="#4169E1" stroke-width="1.15" stroke-linejoin="round" stroke-linecap="round"/>
<polyline points="73,146.6 74,146.6 75,145.6 77,144.6 78.2,136.4 79.5,120 80.4,96.1 83.2,120 84.8,136.4 85.6,143.8 87.7,145.2 92,144.4 96,143.3 100,142.2 107.4,141.5 110.5,141 115.3,140.2 117.4,141.5 120,143.1 123.2,144.6 130,145.3 135,145.8 141,146.1 145,145.6 149.5,145.1 153,145.4 156,146.6" fill="none" stroke="#EDB120" stroke-width="1.15" stroke-linejoin="round" stroke-linecap="round"/>
<polyline points="199,146.6 204.6,145.3 210,146.6" fill="none" stroke="#EDB120" stroke-width="1.15" stroke-linejoin="round" stroke-linecap="round"/>
<polyline points="66.5,146.6 68.3,145.3 70.2,142.8 71.7,142.2 73,142.8 74.3,144 75.5,142 76.6,136.4 78.7,121 80.4,109.2 81.9,120 83.2,140.5 84.4,143.8 86.5,145.2 89,144.5 92,143 95,141.8 98.9,140.8 104.2,139.9 107.9,136.7 111.6,135 114.2,135.7 116.8,138.8 119.5,143.1 121.6,145.5 125.3,145.9 130,145.8 160,146.6" fill="none" stroke="#7E2F8E" stroke-width="1.2" stroke-linejoin="round" stroke-linecap="round"/>
<polyline points="41.9,146.6 73,146.6 74.3,145.5 75.5,138 76.5,122 78.2,90 80.4,50.2 81.7,90 82.6,122 83.6,146 84.5,146.6 330.7,146.6" fill="none" stroke="#77AC30" stroke-width="1.35" stroke-linejoin="round" stroke-linecap="round"/>
<polyline points="423.2,148 427.9,146.25 432.5,145.45 435.5,142.58 439,135.1 443.1,128.7 446.3,119.4 448.9,119.4 450.3,127.5 451.9,134.5 455,142.8 459.4,146.25 464.1,148 475,147.45 480,148 484,148" fill="none" stroke="#4169E1" stroke-width="1.15" stroke-linejoin="round" stroke-linecap="round"/>
<polyline points="430.2,148 440,148 448,146.25 451.3,142.91 454.2,136.4 456.3,141.06 458.3,142.58 461.2,141.6 464.1,142.58 467,145.05 471.1,145.65 476.6,142.48 481,138.98 483.9,144.44 486.8,145.55 489.7,143.24 493.4,145.25 499.2,145.85 520,146.15 538.6,147.05 558,148 565,147.15 572,146.65 580,147.15 588,148" fill="none" stroke="#EDB120" stroke-width="1.15" stroke-linejoin="round" stroke-linecap="round"/>
<polyline points="423.2,148 426.1,144.44 430.2,146.85 432.5,147.35 450.1,147.35 453.6,146.25 457.1,143.79 460,144.44 465.3,145.65 470,145.15 475,144.44 477.3,143.24 483.1,140.95 486.8,136.3 489.7,133.1 492.6,139.31 495.5,142.48 502.1,142.8 507.2,142.15 510.9,141.17 514.3,143.9 517.6,146.05 521,147.35 526,148" fill="none" stroke="#7E2F8E" stroke-width="1.2" stroke-linejoin="round" stroke-linecap="round"/>
<polyline points="373.3,148 430.2,148 434,147.05 438.4,145.85 442,146.15 445.4,146.25 450.1,144.44 455.3,141.93 456.5,130 457.5,119.7 460.8,85 463,119.7 464.1,135.7 465.9,146.85 468,148 474,147.15 478.8,146.55 484,148 661.9,148" fill="none" stroke="#77AC30" stroke-width="1.35" stroke-linejoin="round" stroke-linecap="round"/>
<polyline points="62,308.5 65,308.5 70,307.5 74,306 76.5,303.5 78,298.5 80.2,283.9 81.7,298.5 83.9,304.3 86,305.5 89,304 92,302.5 95,300.8 98,300.6 102.4,300.1 105.4,297.6 107.3,294.6 108.5,294 110.4,297 113.4,300.7 117.1,306.9 120,308.5 122,308.5" fill="none" stroke="#8c8c8c" stroke-width="1.2" stroke-linejoin="round" stroke-linecap="round"/>
<polyline points="62,308.5 67.8,308.5 72,307.5 74.4,306.5 75.8,300 77.3,255 80.5,227.9 81.8,255 82.7,296.7 85.2,306.7 88,308.5 122,308.5" fill="none" stroke="#FF6A2A" stroke-width="1.2" stroke-linejoin="round" stroke-linecap="round"/>
<polyline points="62,308.5 66,308.5 70,307.5 73.7,305.8 76.6,302.9 79.5,298.5 81.7,301.4 83.9,305.1 86.1,305.8 89,303.6 92.7,301.4 95,298.8 97.5,300.1 101.1,297.6 104.8,294 107.3,290.9 109.1,290.3 111,294.6 113.4,300.1 115.9,305 119.6,307.8 123,308.5" fill="none" stroke="#0000FF" stroke-width="1.25" stroke-linejoin="round" stroke-linecap="round"/>
<polyline points="62,308.5 65,306 67.8,303.6 70,301.4 73,299.2 75.1,291.2 77.3,272.2 79.5,278.1 81,283.9 82.4,295.6 83.9,301.4 86.8,302.9 89.7,301.4 92.7,301.4 95.6,303.6 98.1,303.8 101.1,305.6 106.1,306.9 113.4,307.5 119.6,308.5 122,308.5" fill="none" stroke="#A2142F" stroke-width="1.2" stroke-linejoin="round" stroke-linecap="round"/>
<polyline points="41.9,308.5 62,308.5 69.3,305.8 73.7,304.3 76.6,303.6 78.8,301.1 81.7,303.6 83.9,305.5 86.8,304 89.7,302.9 92.7,300.7 95,297.5 98.7,294.6 102.4,292.1 106.1,289.4 107.3,290.3 109.1,296.4 111,297.6 113.4,300.7 115.9,305 118.3,307.5 122,308.5 330.7,308.5" fill="none" stroke="#000000" stroke-width="1.3" stroke-linejoin="round" stroke-linecap="round"/>
<polyline points="416,308.5 430,308.5 445,307.8 450,305.5 454.4,303.7 458,301.1 461,301.9 463.5,301.4 466.1,302.2 468.2,304.1 472.5,305.6 478,305.8 485,304.5 492,303.5 498.1,302.9 505.6,302.3 512.1,303.4 518.7,305.3 524.3,307.6 530,308.5 535,308.5" fill="none" stroke="#8c8c8c" stroke-width="1.2" stroke-linejoin="round" stroke-linecap="round"/>
<polyline points="416,308.5 425,308.5 430,308 432.7,306.5 434.4,303.8 437.5,304.7 440.6,305.6 443.2,301.6 446.3,304.3 448.9,306 452.4,306 456.8,307.3 461.2,306.5 464.7,304.7 468.2,303.7 471.9,302.6 475.5,299 479.2,294.9 482.1,292 484.3,291.1 486.9,291.6 488.3,293.8 490.9,301.1 492.7,306.2 498.1,306.7 500.9,307.6 509.3,307.6 514,308.5 535,308.5" fill="none" stroke="#FF6A2A" stroke-width="1.2" stroke-linejoin="round" stroke-linecap="round"/>
<polyline points="416,308.5 424,308.5 426.5,307.2 428.5,306.2 431.5,306.3 433.5,307.3 440,307.6 450,307.3 457.3,307.6 464.6,306.1 471.9,305.9 479.2,304.8 486.5,303.7 493.8,302.5 496.7,301.5 500,300.1 504.6,298.3 509.3,299.2 514,300.6 517.8,302.5 522.4,305.3 526.2,307.2 530,308.5 535,308.5" fill="none" stroke="#0000FF" stroke-width="1.25" stroke-linejoin="round" stroke-linecap="round"/>
<polyline points="416,308.5 420,308.5 439.3,307.3 443.2,306.7 448.9,306.5 453.3,305.6 457.3,307.6 461,305.7 464.6,305.2 470.4,303.7 475.5,301.1 478.1,303 480.7,301.9 483.6,298.6 485.8,295.7 487.2,293.1 489.4,293.8 492.3,294.9 493.8,297.5 496,301.5 498.2,302.6 500.9,305.1 506.5,305.5 511.2,306.7 516.8,308.5 530,308.5 535,308.5" fill="none" stroke="#A2142F" stroke-width="1.2" stroke-linejoin="round" stroke-linecap="round"/>
<polyline points="373.3,308.5 416,308.5 419.7,307.3 422.6,308.5 450,307.6 457.3,308.5 460.2,308.5 464.6,306.8 470.4,307.1 477.5,305.9 485.9,304.2 492.5,303.2 496.2,301.7 498.9,297.8 500.9,296.7 503.7,296.1 507.5,296.4 510.3,297.6 513.1,297.3 515.9,299.2 519.6,301.1 522.4,302.9 524.3,305.3 526.2,306.7 530,307.5 535,308.5 661.9,308.5" fill="none" stroke="#000000" stroke-width="1.3" stroke-linejoin="round" stroke-linecap="round"/>
<rect x="617.5" y="11.6" width="45.9" height="72.5" fill="#fff" stroke="#a8a8a8" stroke-width="1"/>
<line x1="617.5" y1="27.3" x2="663.4" y2="27.3" stroke="#a8a8a8" stroke-width="1"/>
<text x="640.45" y="24.2" text-anchor="middle" class="l">No.axles</text>
<line x1="625" y1="35.3" x2="647" y2="35.3" stroke="#4169E1" stroke-width="1.2"/>
<text x="648.7" y="39.85" class="l">2</text>
<line x1="625" y1="49.25" x2="647" y2="49.25" stroke="#EDB120" stroke-width="1.2"/>
<text x="648.7" y="53.8" class="l">3</text>
<line x1="625" y1="63.2" x2="647" y2="63.2" stroke="#7E2F8E" stroke-width="1.3"/>
<text x="648.7" y="67.75" class="l">4</text>
<line x1="625" y1="77.15" x2="647" y2="77.15" stroke="#77AC30" stroke-width="1.2"/>
<text x="648.7" y="81.7" class="l">5</text>
<rect x="617.5" y="172.3" width="45.6" height="86.8" fill="#fff" stroke="#a8a8a8" stroke-width="1"/>
<line x1="617.5" y1="188.1" x2="663.1" y2="188.1" stroke="#a8a8a8" stroke-width="1"/>
<text x="640.3" y="185.0" text-anchor="middle" class="l">No.axles</text>
<line x1="622.4" y1="195.95" x2="643.6" y2="195.95" stroke="#8c8c8c" stroke-width="1.3"/>
<text x="645.3" y="200.5" class="l">6</text>
<line x1="622.4" y1="209.9" x2="643.6" y2="209.9" stroke="#FF6A2A" stroke-width="1.3"/>
<text x="645.3" y="214.45" class="l">7</text>
<line x1="622.4" y1="223.85" x2="643.6" y2="223.85" stroke="#0000FF" stroke-width="1.4"/>
<text x="645.3" y="228.4" class="l">8</text>
<line x1="622.4" y1="237.8" x2="643.6" y2="237.8" stroke="#A2142F" stroke-width="1.3"/>
<text x="645.3" y="242.35" class="l">9</text>
<line x1="622.4" y1="251.75" x2="643.6" y2="251.75" stroke="#000000" stroke-width="1.3"/>
<text x="645.3" y="256.3" class="l">10</text>
<text x="341.5" y="10.3" class="p">(a)</text>
<text x="672.1" y="10.7" class="p">(b)</text>
<text x="341.4" y="173.6" class="p">(c)</text>
<text x="672" y="173.9" class="p">(d)</text>
<text x="186.6" y="339" text-anchor="middle" class="x">Minimum axle distance [m]</text>
<text x="517.7" y="339.2" text-anchor="middle" class="x">Mean axle distance [m]</text>
<text transform="translate(9.2,75.45) rotate(-90)" text-anchor="middle" class="x" style="font-size:12.82px">Relative frequency [%]</text>
<text transform="translate(9.2,236.85) rotate(-90)" text-anchor="middle" class="x" style="font-size:12.75px">Relative frequency [%]</text>
</svg>
</body></html>
